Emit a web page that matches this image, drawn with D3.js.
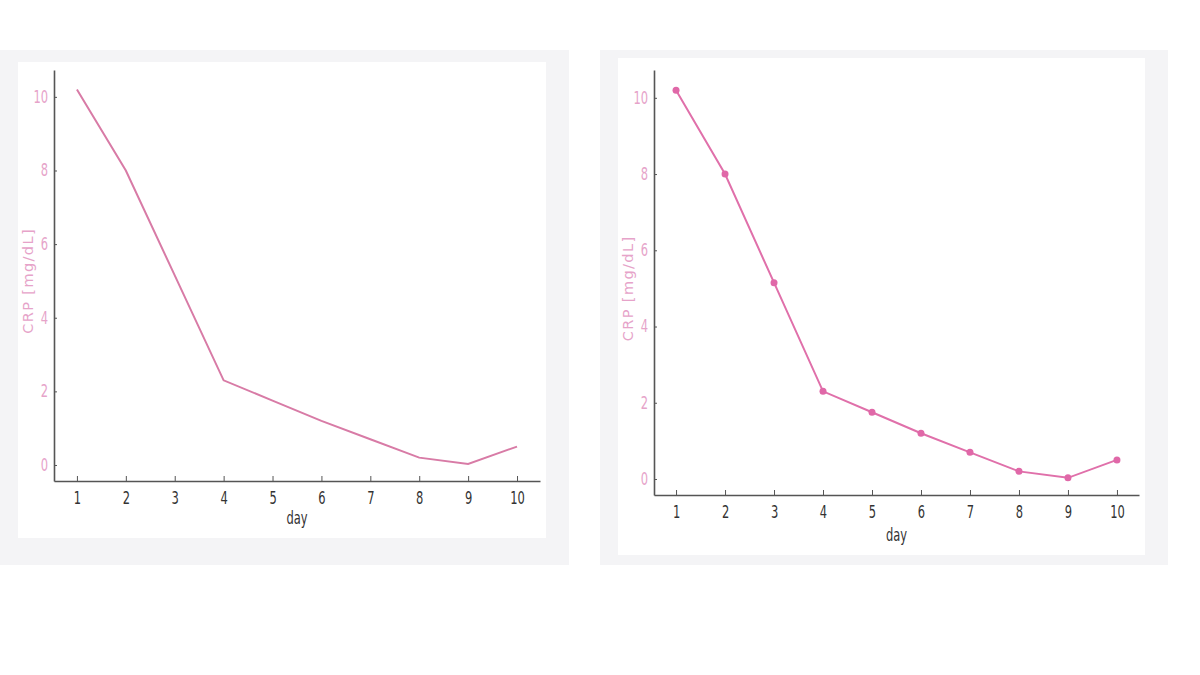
<!DOCTYPE html>
<html>
<head>
<meta charset="utf-8">
<script src="https://cdn.jsdelivr.net/npm/d3@7"></script>
<style>
  body { margin: 0; background: #fff; }
  svg { display: block; }
  .tick text { font-family: "DejaVu Sans Condensed", "DejaVu Sans", sans-serif; }
</style>
</head>
<body>
<svg id="chart" width="1200" height="675"></svg>
<script>
// data
let days = [1, 2, 3, 4, 5, 6, 7, 8, 9, 10];
let crp = [10.2, 8.0, 5.15, 2.3, 1.75, 1.2, 0.7, 0.2, 0.03, 0.5];
let yTicks = [0, 2, 4, 6, 8, 10];
let xLabel = 'day';
let yLabel = 'CRP [mg/dL]';

let svg = d3.select('#chart');

// narrow glyphs like the original
let squeeze = 0.75;

// two panels, left without markers, right with markers
let panels = [
  { outer: [0, 50, 569, 515], inner: [18, 62, 528, 476],
    x0: 54, x1: 540, y0: 481, y1: 70, xDom: [0.531, 10.47], yDom: [-0.435, 10.73],
    yLabX: 29, xLabY: 519, line: '#d87ba6', dots: false },
  { outer: [600, 50, 568, 515], inner: [618, 58, 527, 497],
    x0: 654, x1: 1139, y0: 495, y1: 70, xDom: [0.55, 10.45], yDom: [-0.42, 10.73],
    yLabX: 629, xLabY: 536, line: '#e070aa', dots: true }
];

for (let p of panels) {
  svg.append('rect')
    .attr('x', p.outer[0]).attr('y', p.outer[1])
    .attr('width', p.outer[2]).attr('height', p.outer[3])
    .attr('fill', '#f4f4f6');
  svg.append('rect')
    .attr('x', p.inner[0]).attr('y', p.inner[1])
    .attr('width', p.inner[2]).attr('height', p.inner[3])
    .attr('fill', '#ffffff');

  let x = d3.scaleLinear().domain(p.xDom).range([p.x0, p.x1]);
  let y = d3.scaleLinear().domain(p.yDom).range([p.y0, p.y1]);

  let xAxis = d3.axisBottom(x)
    .tickValues(days)
    .tickSizeInner(-5)
    .tickSizeOuter(0)
    .tickPadding(11)
    .tickFormat(d3.format('d'));

  let yAxis = d3.axisLeft(y)
    .tickValues(yTicks)
    .tickSizeInner(-3)
    .tickSizeOuter(0)
    .tickPadding(8)
    .tickFormat(d3.format('d'));

  let gx = svg.append('g')
    .attr('transform', `translate(0,${p.y0})`)
    .call(xAxis);
  gx.select('.domain').attr('stroke', '#555').attr('stroke-width', 1.6);
  gx.selectAll('.tick line').attr('stroke', '#555');
  gx.selectAll('.tick text')
    .attr('fill', '#333')
    .attr('font-size', 17)
    .attr('transform', `scale(${squeeze},1)`);

  let gy = svg.append('g')
    .attr('transform', `translate(${p.x0},0)`)
    .call(yAxis);
  gy.select('.domain').attr('stroke', '#555').attr('stroke-width', 1.6);
  gy.selectAll('.tick line').attr('stroke', '#555');
  gy.selectAll('.tick text')
    .attr('fill', '#e6a3c9')
    .attr('font-size', 17)
    .attr('x', -6 / squeeze)
    .attr('transform', `scale(${squeeze},1)`);

  // axis titles
  svg.append('text')
    .attr('transform', `translate(${x(5.5)},${p.xLabY}) scale(${squeeze},1)`)
    .attr('text-anchor', 'middle')
    .attr('dominant-baseline', 'middle')
    .attr('font-family', '"DejaVu Sans Condensed", "DejaVu Sans", sans-serif')
    .attr('font-size', 17)
    .attr('fill', '#333')
    .text(xLabel);

  svg.append('text')
    .attr('transform', `translate(${p.yLabX},${y(5)}) rotate(-90)`)
    .attr('text-anchor', 'middle')
    .attr('dominant-baseline', 'middle')
    .attr('font-family', '"DejaVu Sans", sans-serif')
    .attr('font-size', 14.5)
    .attr('letter-spacing', 1.4)
    .attr('fill', '#e6a3c9')
    .text(yLabel);

  let valueline = d3.line()
    .x((d, i) => x(days[i]))
    .y(d => y(d));

  svg.append('path')
    .datum(crp)
    .attr('fill', 'none')
    .attr('stroke', p.line)
    .attr('stroke-width', 2)
    .attr('d', valueline);

  if (p.dots) {
    svg.append('g')
      .selectAll('circle')
      .data(crp)
      .join('circle')
      .attr('cx', (d, i) => x(days[i]))
      .attr('cy', d => y(d))
      .attr('r', 3.5)
      .attr('fill', '#e068a8');
  }
}
</script>
</body>
</html>
